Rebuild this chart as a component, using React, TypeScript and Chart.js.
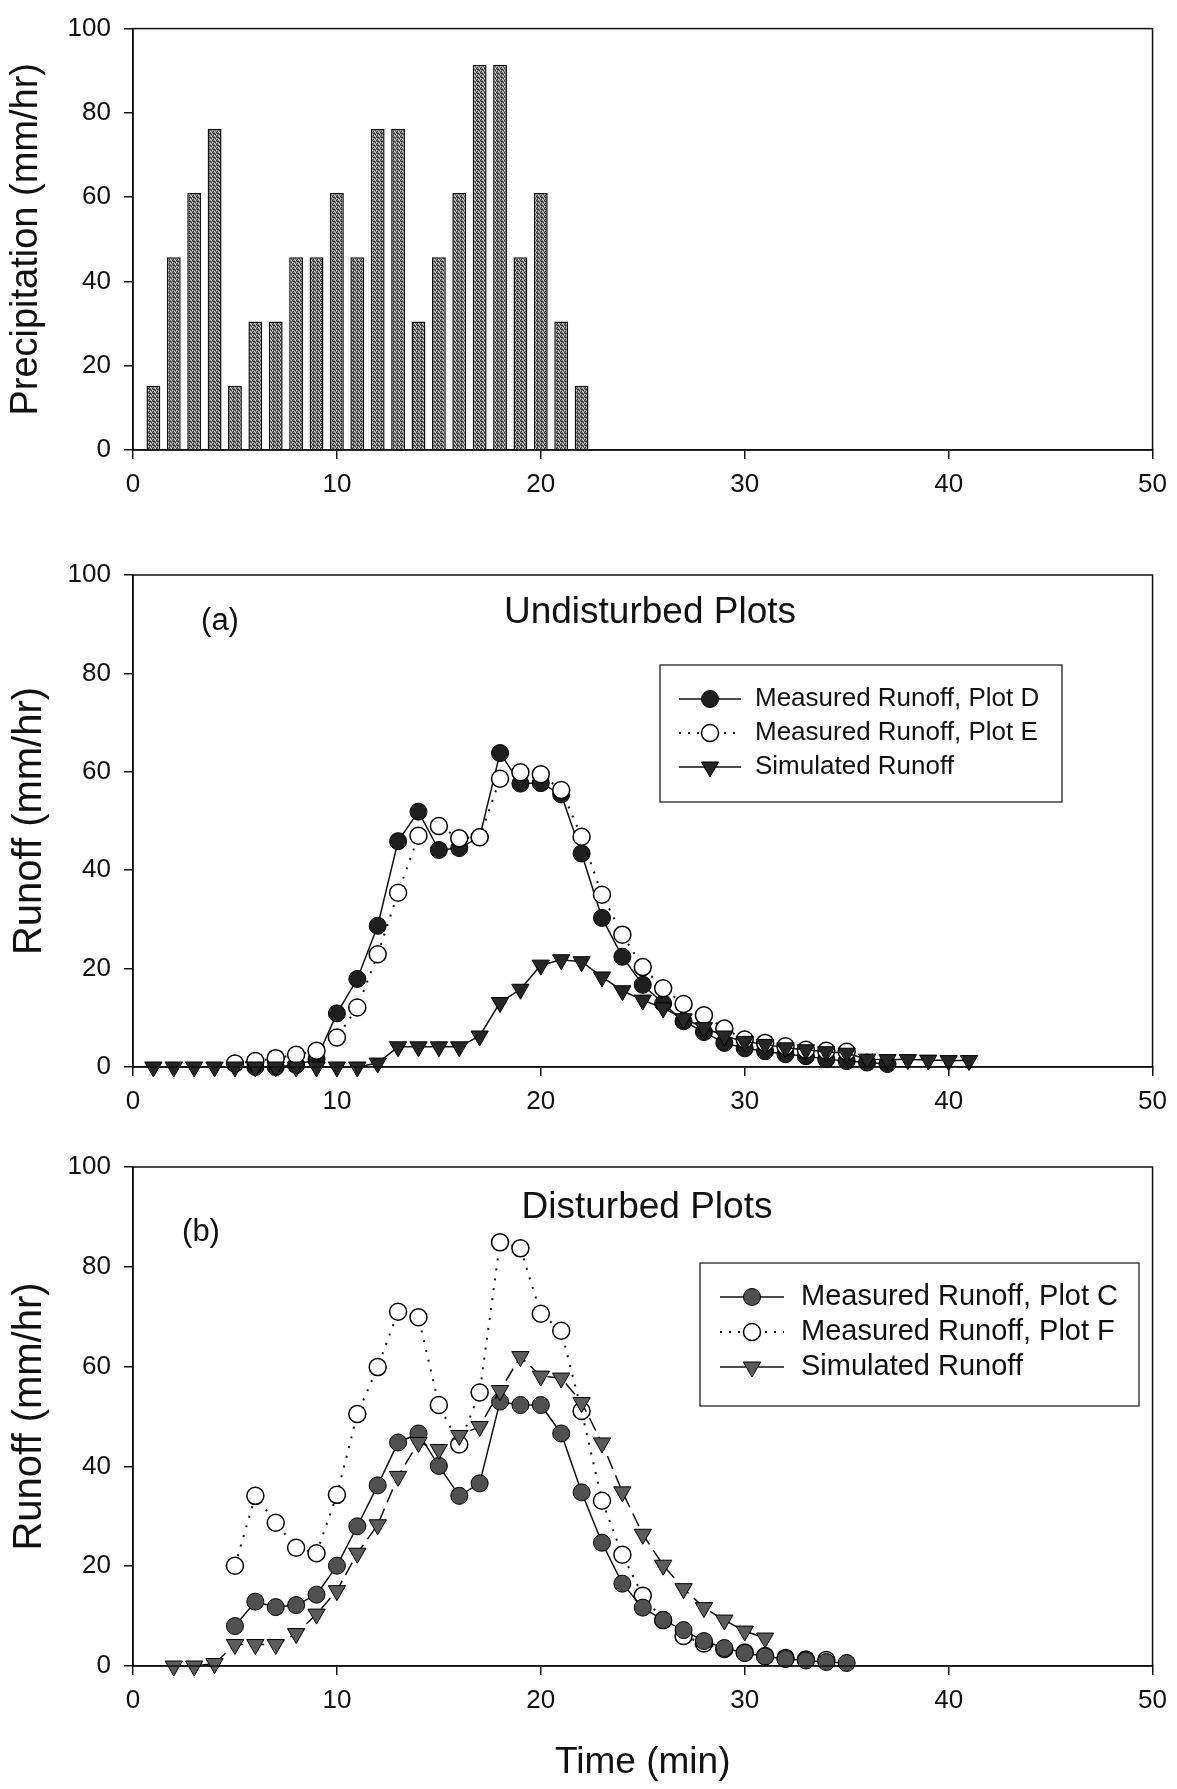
import React, { useEffect, useRef } from "react";
import { Chart, registerables } from "chart.js";
import { drawPoint } from "chart.js/helpers";

Chart.register(...registerables);

// ---------- DATA ----------
// Precipitation (mm/hr) per minute
const precipMinutes = [1, 2, 3, 4, 5, 6, 7, 8, 9, 10, 11, 12, 13, 14, 15, 16, 17, 18, 19, 20, 21, 22];
const precipRates = [15.24, 45.72, 60.96, 76.2, 15.24, 30.48, 30.48, 45.72, 45.72, 60.96, 45.72, 76.2, 76.2, 30.48, 45.72, 60.96, 91.44, 91.44, 45.72, 60.96, 30.48, 15.24];

// (a) Undisturbed plots
const plotDMinutes = [6, 7, 8, 9, 10, 11, 12, 13, 14, 15, 16, 17, 18, 19, 20, 21, 22, 23, 24, 25, 26, 27, 28, 29, 30, 31, 32, 33, 34, 35, 36, 37];
const plotDRunoff = [0, 0, 0.4, 1.6, 10.9, 17.9, 28.7, 45.9, 51.9, 44.1, 44.5, 46.7, 63.8, 57.6, 57.7, 55.4, 43.4, 30.3, 22.4, 16.7, 12.9, 9.3, 7.1, 4.9, 3.8, 3.2, 2.6, 2.2, 1.6, 1.2, 0.9, 0.6];

const plotEMinutes = [5, 6, 7, 8, 9, 10, 11, 12, 13, 14, 15, 16, 17, 18, 19, 20, 21, 22, 23, 24, 25, 26, 27, 28, 29, 30, 31, 32, 33, 34, 35];
const plotERunoff = [0.7, 1.2, 1.8, 2.5, 3.3, 6.0, 12.1, 22.9, 35.4, 47.0, 49.0, 46.5, 46.7, 58.6, 59.9, 59.5, 56.3, 46.8, 35.0, 26.9, 20.3, 16.0, 12.8, 10.5, 7.8, 5.6, 4.9, 4.2, 3.5, 3.3, 3.1];

const simAMinutes = [1, 2, 3, 4, 5, 6, 7, 8, 9, 10, 11, 12, 13, 14, 15, 16, 17, 18, 19, 20, 21, 22, 23, 24, 25, 26, 27, 28, 29, 30, 31, 32, 33, 34, 35, 36, 37, 38, 39, 40, 41];
const simARunoff = [0, 0, 0, 0, 0, 0, 0, 0, 0, 0, 0, 0.8, 4.1, 4.1, 4.1, 4.1, 6.3, 13.1, 15.8, 20.7, 21.8, 21.4, 18.3, 15.5, 13.6, 12.0, 9.8, 8.0, 6.3, 5.2, 4.6, 3.9, 3.5, 3.1, 2.8, 1.6, 1.5, 1.5, 1.4, 1.3, 1.3];

// (b) Disturbed plots
const plotCMinutes = [5, 6, 7, 8, 9, 10, 11, 12, 13, 14, 15, 16, 17, 18, 19, 20, 21, 22, 23, 24, 25, 26, 27, 28, 29, 30, 31, 32, 33, 34, 35];
const plotCRunoff = [8.0, 12.9, 11.8, 12.2, 14.3, 20.1, 28.0, 36.2, 44.8, 46.6, 40.1, 34.1, 36.6, 53.0, 52.3, 52.3, 46.6, 34.8, 24.7, 16.5, 11.7, 9.2, 7.2, 5.0, 3.6, 2.6, 1.9, 1.4, 1.1, 0.8, 0.6];

const plotFMinutes = [5, 6, 7, 8, 9, 10, 11, 12, 13, 14, 15, 16, 17, 18, 19, 20, 21, 22, 23, 24, 25, 26, 27, 28, 29, 30, 31, 32, 33, 34];
const plotFRunoff = [20.1, 34.1, 28.7, 23.7, 22.6, 34.3, 50.5, 59.9, 71.0, 69.9, 52.3, 44.4, 54.8, 84.9, 83.7, 70.6, 67.2, 51.1, 33.1, 22.3, 14.1, 9.2, 6.0, 4.5, 3.4, 2.7, 2.0, 1.6, 1.3, 1.2];

const simBMinutes = [2, 3, 4, 5, 6, 7, 8, 9, 10, 11, 12, 13, 14, 15, 16, 17, 18, 19, 20, 21, 22, 23, 24, 25, 26, 27, 28, 29, 30, 31];
const simBRunoff = [0, 0, 0.5, 4.3, 4.3, 4.3, 6.5, 10.4, 15.1, 22.6, 28.3, 38.0, 44.8, 43.4, 46.2, 48.0, 55.2, 62.0, 58.1, 57.7, 52.8, 44.7, 34.9, 26.4, 20.2, 15.5, 11.7, 9.2, 7.0, 5.6];

// axis ticks / labels
const xMin = 0;
const xMax = 50;
const xStep = 10;
const yMin = 0;
const yMax = 100;
const yStep = 20;

// ---------- STYLE ----------
const FONT = "'Liberation Sans', Arial, Helvetica, sans-serif";
const INK = "#111111";

function pts(xs: number[], ys: number[]) {
  return xs.map((x, i) => ({ x, y: ys[i] }));
}

function makeStipple(): CanvasPattern | string {
  const c = document.createElement("canvas");
  c.width = 4;
  c.height = 4;
  const g = c.getContext("2d");
  if (!g) return "#7a7a7a";
  g.fillStyle = "#808080";
  g.fillRect(0, 0, 4, 4);
  g.fillStyle = "#2e2e2e";
  g.fillRect(0, 0, 1, 1);
  g.fillRect(2, 1, 1, 1);
  g.fillRect(1, 3, 1, 1);
  g.fillRect(3, 2, 1, 1);
  g.fillRect(1, 1, 1, 1);
  g.fillStyle = "#d6d6d6";
  g.fillRect(2, 3, 1, 1);
  g.fillRect(0, 2, 1, 1);
  g.fillRect(3, 0, 1, 1);
  return g.createPattern(c, "repeat") ?? "#7a7a7a";
}

const framePlugin = {
  id: "frame",
  afterDatasetsDraw(chart: any) {
    const { ctx, chartArea: a } = chart;
    ctx.save();
    ctx.strokeStyle = INK;
    ctx.lineWidth = 1.5;
    ctx.strokeRect(a.left, a.top, a.right - a.left, a.bottom - a.top);
    ctx.restore();
  },
};

const notesPlugin = {
  id: "notes",
  afterDraw(chart: any, _args: any, opts: any) {
    const items = (opts && opts.items) || [];
    const { ctx } = chart;
    ctx.save();
    ctx.fillStyle = INK;
    ctx.textAlign = "center";
    ctx.textBaseline = "middle";
    for (const it of items) {
      ctx.font = `${it.size}px ${FONT}`;
      ctx.fillText(it.text, it.x, it.y);
    }
    ctx.restore();
  },
};

const boxLegendPlugin = {
  id: "boxLegend",
  afterDraw(chart: any, _args: any, opts: any) {
    if (!opts || !opts.box) return;
    const { ctx } = chart;
    const { box, rows, sampleX0, sampleX1, textX, fontSize, sampleDash } = opts;
    ctx.save();
    ctx.fillStyle = "#ffffff";
    ctx.fillRect(box.x, box.y, box.w, box.h);
    ctx.strokeStyle = "#222";
    ctx.lineWidth = 1.3;
    ctx.strokeRect(box.x, box.y, box.w, box.h);
    chart.data.datasets.forEach((ds: any, i: number) => {
      const y = rows[i];
      ctx.save();
      ctx.strokeStyle = ds.borderColor;
      ctx.lineWidth = ds.borderWidth;
      ctx.setLineDash((sampleDash && sampleDash[i]) || []);
      ctx.beginPath();
      ctx.moveTo(sampleX0, y);
      ctx.lineTo(sampleX1, y);
      ctx.stroke();
      ctx.restore();
      ctx.save();
      ctx.fillStyle = ds.pointBackgroundColor;
      ctx.strokeStyle = ds.pointBorderColor;
      ctx.lineWidth = ds.pointBorderWidth;
      drawPoint(
        ctx,
        {
          pointStyle: ds.pointStyle,
          rotation: ds.pointRotation || 0,
          radius: ds.pointRadius,
          borderWidth: ds.pointBorderWidth,
        } as any,
        (sampleX0 + sampleX1) / 2,
        y
      );
      ctx.restore();
      ctx.fillStyle = INK;
      ctx.font = `${fontSize}px ${FONT}`;
      ctx.textAlign = "left";
      ctx.textBaseline = "middle";
      ctx.fillText(ds.label, textX, y);
    });
    ctx.restore();
  },
};

function xScale(height: number, title?: string) {
  return {
    type: "linear",
    min: xMin,
    max: xMax,
    offset: false,
    ticks: { stepSize: xStep, padding: 10, color: INK, font: { family: FONT, size: 26 } },
    grid: { display: true, offset: false, drawOnChartArea: false, drawTicks: true, tickLength: 9, color: INK, lineWidth: 1.5 },
    border: { display: true, color: INK, width: 1.5 },
    title: title
      ? { display: true, text: title, color: INK, font: { family: FONT, size: 37 }, padding: { top: 0, bottom: 4 } }
      : { display: false },
    afterFit: (s: any) => {
      s.height = height;
    },
  };
}

function yScale(title: string, titleSize: number, titlePad: number) {
  return {
    type: "linear",
    min: yMin,
    max: yMax,
    ticks: { stepSize: yStep, padding: 13, color: INK, font: { family: FONT, size: 26 } },
    grid: { display: true, drawOnChartArea: false, drawTicks: true, tickLength: 9, color: INK, lineWidth: 1.5 },
    border: { display: true, color: INK, width: 1.5 },
    title: { display: true, text: title, color: INK, font: { family: FONT, size: titleSize }, padding: { top: titlePad, bottom: 0 } },
    afterFit: (s: any) => {
      s.width = 133;
    },
  };
}

function filledCircle(label: string, data: any[], fill: string, order: number) {
  return {
    label,
    data,
    order,
    clip: false,
    borderColor: INK,
    borderWidth: 1.5,
    borderDash: [],
    pointStyle: "circle",
    pointRadius: 8.5,
    pointBackgroundColor: fill,
    pointBorderColor: "#000",
    pointBorderWidth: 1,
    tension: 0,
  };
}

function openCircle(label: string, data: any[], order: number) {
  return {
    label,
    data,
    order,
    clip: false,
    borderColor: INK,
    borderWidth: 2,
    borderDash: [2, 8],
    pointStyle: "circle",
    pointRadius: 8.5,
    pointBackgroundColor: "#ffffff",
    pointBorderColor: "#000",
    pointBorderWidth: 1.5,
    tension: 0,
  };
}

function triangleDown(label: string, data: any[], fill: string, dash: number[], order: number) {
  return {
    label,
    data,
    order,
    clip: false,
    borderColor: INK,
    borderWidth: 1.5,
    borderDash: dash,
    pointStyle: "triangle",
    pointRotation: 180,
    pointRadius: 10,
    pointBackgroundColor: fill,
    pointBorderColor: "#000",
    pointBorderWidth: 1,
    tension: 0,
  };
}

export default function App() {
  const c1 = useRef<HTMLCanvasElement>(null);
  const c2 = useRef<HTMLCanvasElement>(null);
  const c3 = useRef<HTMLCanvasElement>(null);

  useEffect(() => {
    const charts: Chart[] = [];

    // ---- Precipitation bars ----
    const stipple = makeStipple();
    charts.push(
      new Chart(c1.current as HTMLCanvasElement, {
        type: "bar",
        data: {
          datasets: [
            {
              label: "Precipitation",
              data: pts(precipMinutes, precipRates) as any,
              backgroundColor: stipple as any,
              borderColor: "#111111",
              borderWidth: 1.5,
              barPercentage: 0.68,
              categoryPercentage: 1,
            },
          ],
        },
        options: {
          animation: false,
          responsive: false,
          maintainAspectRatio: false,
          layout: { padding: { left: 0, right: 14, top: 23, bottom: 0 } },
          plugins: { legend: { display: false }, tooltip: { enabled: false } },
          scales: {
            x: xScale(80) as any,
            y: yScale("Precipitation (mm/hr)", 38, 4) as any,
          },
        },
        plugins: [framePlugin],
      })
    );

    // ---- (a) Undisturbed ----
    charts.push(
      new Chart(c2.current as HTMLCanvasElement, {
        type: "line",
        data: {
          datasets: [
            filledCircle("Measured Runoff, Plot D", pts(plotDMinutes, plotDRunoff), "#1e1e1e", 2),
            openCircle("Measured Runoff, Plot E", pts(plotEMinutes, plotERunoff), 1),
            triangleDown("Simulated Runoff", pts(simAMinutes, simARunoff), "#262626", [], 0),
          ] as any,
        },
        options: {
          animation: false,
          responsive: false,
          maintainAspectRatio: false,
          layout: { padding: { left: 0, right: 14, top: 45, bottom: 0 } },
          plugins: {
            legend: { display: false },
            tooltip: { enabled: false },
            notes: {
              items: [
                { text: "(a)", x: 220, y: 91, size: 31 },
                { text: "Undisturbed Plots", x: 650, y: 83, size: 37 },
              ],
            },
            boxLegend: {
              box: { x: 660, y: 135, w: 402, h: 137 },
              rows: [169, 203, 237],
              sampleX0: 679,
              sampleX1: 741,
              textX: 755,
              fontSize: 26,
              sampleDash: [[], [2, 7], []],
            },
          } as any,
          scales: {
            x: xScale(63) as any,
            y: yScale("Runoff (mm/hr)", 40, 6) as any,
          },
        },
        plugins: [framePlugin, notesPlugin, boxLegendPlugin],
      })
    );

    // ---- (b) Disturbed ----
    charts.push(
      new Chart(c3.current as HTMLCanvasElement, {
        type: "line",
        data: {
          datasets: [
            filledCircle("Measured Runoff, Plot C", pts(plotCMinutes, plotCRunoff), "#505050", 1),
            openCircle("Measured Runoff, Plot F", pts(plotFMinutes, plotFRunoff), 2),
            triangleDown("Simulated Runoff", pts(simBMinutes, simBRunoff), "#5c5c5c", [14, 7], 0),
          ] as any,
        },
        options: {
          animation: false,
          responsive: false,
          maintainAspectRatio: false,
          layout: { padding: { left: 0, right: 14, top: 37, bottom: 0 } },
          plugins: {
            legend: { display: false },
            tooltip: { enabled: false },
            notes: {
              items: [
                { text: "(b)", x: 201, y: 102, size: 31 },
                { text: "Disturbed Plots", x: 647, y: 78, size: 37 },
              ],
            },
            boxLegend: {
              box: { x: 700, y: 133, w: 439, h: 143 },
              rows: [167, 202, 237],
              sampleX0: 720,
              sampleX1: 784,
              textX: 801,
              fontSize: 29,
              sampleDash: [[], [2, 7], []],
            },
          } as any,
          scales: {
            x: xScale(123, "Time (min)") as any,
            y: yScale("Runoff (mm/hr)", 40, 6) as any,
          },
        },
        plugins: [framePlugin, notesPlugin, boxLegendPlugin],
      })
    );

    return () => charts.forEach((c) => c.destroy());
  }, []);

  return (
    <div style={{ position: "absolute", left: 0, top: 0, width: 1177, height: 1789, background: "#ffffff" }}>
      <canvas ref={c1} width={1177} height={530} style={{ position: "absolute", left: 0, top: 0, width: 1177, height: 530 }} />
      <canvas ref={c2} width={1177} height={600} style={{ position: "absolute", left: 0, top: 530, width: 1177, height: 600 }} />
      <canvas ref={c3} width={1177} height={659} style={{ position: "absolute", left: 0, top: 1130, width: 1177, height: 659 }} />
    </div>
  );
}
